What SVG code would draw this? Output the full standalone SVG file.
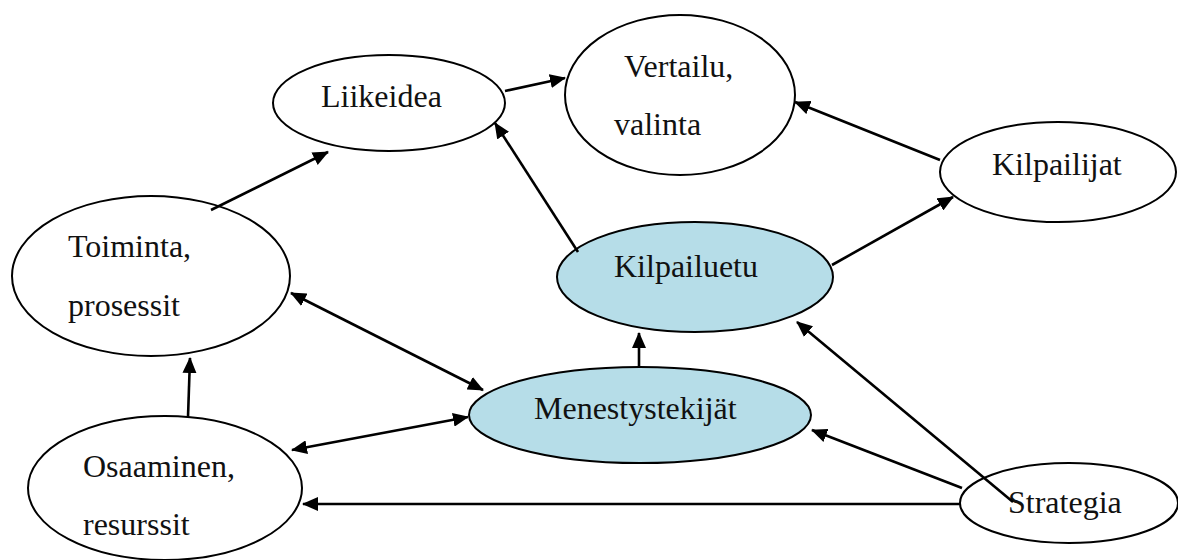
<svg xmlns="http://www.w3.org/2000/svg" width="1178" height="560" viewBox="0 0 1178 560">
<style>
.n{fill:#ffffff;stroke:#000;stroke-width:2}
.b{fill:#b6dde8;stroke:#000;stroke-width:2}
.t{font-family:"Liberation Serif",serif;font-size:32px;fill:#111}
.c line{stroke:#000;stroke-width:2.6;fill:none}
.e{marker-end:url(#ah)}
.d{marker-start:url(#ah);marker-end:url(#ah)}
</style>
<defs>
<marker id="ah" markerUnits="userSpaceOnUse" markerWidth="16" markerHeight="14" viewBox="0 0 16 14" refX="15" refY="7" orient="auto-start-reverse">
<path d="M0,0 L16,7 L0,14 z" fill="#000"/>
</marker>
</defs>
<rect width="1178" height="560" fill="#fff"/>
<g id="liikeidea"><ellipse class="n" cx="389" cy="103" rx="116" ry="48"/><text class="t" x="321" y="107">Liikeidea</text></g>
<g id="vertailu"><ellipse class="n" cx="680" cy="95" rx="115" ry="80"/><text class="t" x="624" y="77">Vertailu,</text><text class="t" x="614" y="135">valinta</text></g>
<g id="kilpailijat"><ellipse class="n" cx="1058" cy="172" rx="118" ry="50"/><text class="t" x="992" y="175">Kilpailijat</text></g>
<g id="toiminta"><ellipse class="n" cx="151" cy="276" rx="139" ry="80"/><text class="t" x="68" y="257">Toiminta,</text><text class="t" x="68" y="316">prosessit</text></g>
<g id="kilpailuetu"><ellipse class="b" cx="695" cy="277" rx="138" ry="55"/><text class="t" x="614" y="277">Kilpailuetu</text></g>
<g id="menestystekijat"><ellipse class="b" cx="640" cy="415" rx="171" ry="48"/><text class="t" x="534" y="419">Menestystekijät</text></g>
<g id="osaaminen"><ellipse class="n" cx="165" cy="488" rx="137" ry="72"/><text class="t" x="83" y="477">Osaaminen,</text><text class="t" x="83" y="535">resurssit</text></g>
<g id="strategia"><ellipse class="n" cx="1069" cy="503" rx="109" ry="40"/><text class="t" x="1008" y="513">Strategia</text></g>
<g id="connectors" class="c">
<line class="e" x1="211" y1="210" x2="328" y2="152"/>
<line class="e" x1="505" y1="91" x2="565" y2="78"/>
<line class="e" x1="578" y1="252" x2="495" y2="123"/>
<line class="e" x1="940" y1="160" x2="795" y2="102"/>
<line class="e" x1="832" y1="265" x2="953" y2="197"/>
<line class="d" x1="291" y1="293" x2="483" y2="390"/>
<line class="e" x1="639" y1="368" x2="639" y2="333"/>
<line class="e" x1="188" y1="417" x2="190" y2="358"/>
<line class="d" x1="292" y1="450" x2="468" y2="417"/>
<line class="e" x1="962" y1="488" x2="812" y2="430"/>
<line class="e" x1="1013" y1="502" x2="797" y2="322"/>
<line class="e" x1="960" y1="504" x2="303" y2="504"/>
</g>
</svg>
